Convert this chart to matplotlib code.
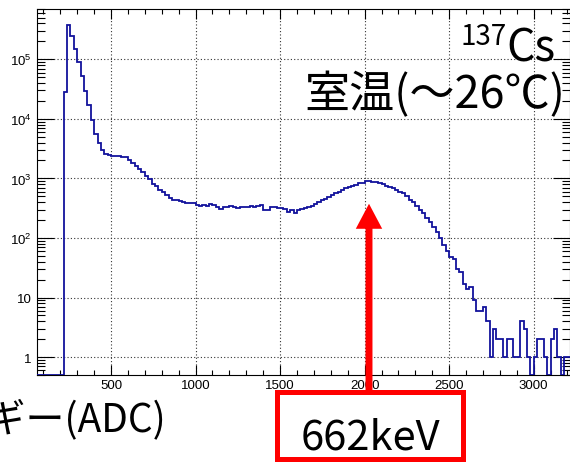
"""
cs137_spectrum.py

137Cs pulse-height spectrum at room temperature (~26 C),
log-scale histogram with the 662 keV photopeak marked.
"""

import numpy as np
import matplotlib.pyplot as plt
from matplotlib.patches import Rectangle, FancyArrowPatch


# ============================================================
# DATA
# ============================================================
bin_start = 60      # ADC
bin_width = 20      # ADC

counts = [
    0, 0, 0, 0, 0, 0, 0, 0,                                   # 60 - 220
    28000, 370000, 250000, 150000, 90000, 52000, 29000, 17000,  # 220 - 380
    9500, 5600, 4000, 3000, 2600, 2450, 2400, 2420,           # 380 - 540
    2380, 2300, 2250, 2050, 1800, 1600, 1450, 1300,           # 540 - 700
    1100, 980, 820, 740, 650, 600, 520, 470,                  # 700 - 860
    430, 440, 410, 400, 390, 380, 385, 360,                   # 860 - 1020
    350, 355, 345, 365, 360, 335, 310, 330,                   # 1020 - 1180
    325, 340, 330, 320, 335, 330, 325, 340,                   # 1180 - 1340
    335, 350, 355, 300, 290, 330, 325, 320,                   # 1340 - 1500
    315, 305, 270, 290, 265, 300, 310, 320,                   # 1500 - 1660
    335, 350, 370, 400, 430, 460, 490, 520,                   # 1660 - 1820
    560, 590, 630, 680, 720, 760, 790, 830,                   # 1820 - 1980
    850, 900, 890, 870, 880, 830, 800, 760,                   # 1980 - 2140
    730, 690, 650, 600, 560, 500, 440, 400,                   # 2140 - 2300
    350, 300, 260, 220, 185, 150, 125, 100,                   # 2300 - 2460
    75, 60, 48, 44, 30, 27, 17, 14,                           # 2460 - 2620
    15, 9, 6, 6, 7, 4, 1, 3,                                  # 2620 - 2780
    2, 2, 1, 2, 2, 1, 1, 4,                                   # 2780 - 2940
    3, 1, 0, 1, 2, 2, 1, 0,                                   # 2940 - 3100
    2, 3, 1, 0, 1, 1, 2,                                      # 3100 - 3240
]

x_ticks = [500, 1000, 1500, 2000, 2500, 3000]
y_ticks = [1, 10, 100, 1e3, 1e4, 1e5]
y_tick_labels = ["1", "10", r"$\mathregular{10^{2}}$", r"$\mathregular{10^{3}}$",
                 r"$\mathregular{10^{4}}$", r"$\mathregular{10^{5}}$"]

x_range = (62, 3215)
y_range = (0.5, 7.0e5)

source_label = "Cs"
source_mass = "137"
temperature_label = "室温(～26℃)"
x_title = "エネルギー(ADC)"
peak_label = "662keV"
# ============================================================

W, H = 570, 464
JP = ["Noto Sans CJK JP", "DejaVu Sans"]


def px(x, y):
    """pixel (from top-left) -> figure fraction"""
    return x / W, 1 - y / H


def main():
    plt.rcParams["mathtext.fontset"] = "custom"
    plt.rcParams["mathtext.rm"] = "Liberation Sans"

    fig = plt.figure(figsize=(W / 100, H / 100), dpi=100)
    ax = fig.add_axes([37 / W, 1 - 376 / H, (570 - 37) / W, (376 - 10) / H])

    c = np.array(counts, dtype=float)
    edges = bin_start + bin_width * np.arange(len(c) + 1)
    c_draw = np.where(c > 0, c, y_range[0])   # empty bins sit on the floor
    ax.stairs(c_draw, edges, baseline=None, color="#12129c", lw=1.3, zorder=3)

    ax.set_yscale("log")
    ax.set_xlim(*x_range)
    ax.set_ylim(*y_range)

    ax.set_xticks(x_ticks)
    ax.set_xticks(np.arange(100, 3300, 100), minor=True)
    ax.set_yticks(y_ticks)
    ax.set_yticklabels(y_tick_labels)

    ax.grid(True, which="major", linestyle=(0, (1, 2)), color="#333333", lw=0.8)
    ax.tick_params(which="both", direction="in", top=True, right=True, width=0.8,
                   labelsize=9.5, labelfontfamily="Liberation Sans")
    ax.tick_params(axis="x", which="major", length=7, pad=3)
    ax.tick_params(axis="x", which="minor", length=3.5)
    ax.tick_params(axis="y", which="major", length=12, pad=4)
    ax.tick_params(axis="y", which="minor", length=6)
    for s in ax.spines.values():
        s.set_linewidth(0.8)

    # source / temperature
    fig.text(*px(507, 45), source_mass, fontsize=20, family=JP, ha="right", va="baseline")
    fig.text(*px(506, 62), source_label, fontsize=32, family=JP, ha="left", va="baseline")
    fig.text(*px(304, 108), temperature_label, fontsize=32.5, family=JP, ha="left", va="baseline")

    # x title (partly off the left edge, as in the original slide)
    fig.text(*px(167, 431), x_title, fontsize=28, family=JP, ha="right", va="baseline")

    # peak marker
    arrow = FancyArrowPatch(px(369, 395), px(369, 202), transform=fig.transFigure,
                            arrowstyle="simple,head_length=18,head_width=19,tail_width=5",
                            color="#ff0000", lw=0, zorder=5)
    fig.add_artist(arrow)
    x0, y1 = px(277, 393)
    x1, y0 = px(463, 460)
    box = Rectangle((x0, y0), x1 - x0, y1 - y0, transform=fig.transFigure,
                    facecolor="white", edgecolor="#ff0000", lw=3.6, zorder=6)
    fig.add_artist(box)
    fig.text(*px(370, 450), peak_label, fontsize=30, family=JP, ha="center",
             va="baseline", zorder=7)

    fig.savefig("out.png", dpi=100)


if __name__ == "__main__":
    main()
